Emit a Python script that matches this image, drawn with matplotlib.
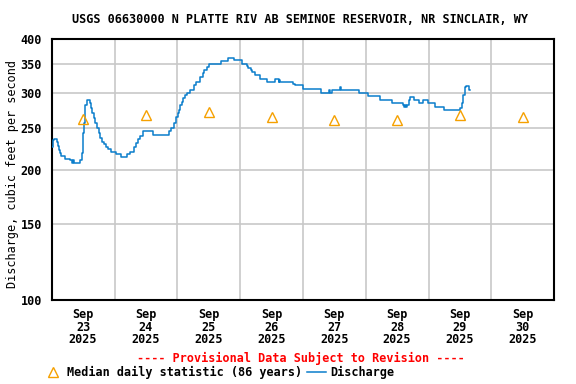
import numpy as np
import pandas as pd
import matplotlib
matplotlib.use("Agg")
import matplotlib.pyplot as plt
import matplotlib.dates as mdates
from matplotlib.lines import Line2D
from matplotlib.ticker import FixedLocator, NullFormatter

plt.rcParams['font.family'] = 'DejaVu Sans Mono'
plt.rcParams['font.weight'] = 'bold'

title = "USGS 06630000 N PLATTE RIV AB SEMINOE RESERVOIR, NR SINCLAIR, WY"
start = pd.Timestamp("2025-09-23 00:00")

# discharge readings: hours after Sep 23 00:00, cfs
q_hours = [0.0, 0.5, 0.9, 2.0, 2.4, 2.8, 3.2, 3.7, 5.2, 7.0, 7.7, 8.2, 8.4, 10.7,
           11.5, 11.8, 12.0, 12.3, 12.6, 12.8, 13.4, 14.6, 15.1, 15.5, 16.0, 16.6,
           17.3, 17.9, 18.5, 19.2, 19.9, 20.6, 21.4, 22.7, 24.4, 26.5, 28.7, 30.0,
           31.4, 32.2, 33.0, 33.6, 34.7, 38.7, 44.8, 45.7, 46.7, 47.6, 48.2, 48.6,
           48.9, 49.9, 50.3, 50.8, 51.8, 52.9, 54.2, 55.2, 56.5, 57.8, 58.2, 59.4,
           60.1, 64.8, 67.3, 69.8, 72.6, 74.5, 75.2, 76.0, 76.4, 77.7, 79.7, 82.3,
           85.5, 86.7, 87.0, 87.3, 92.4, 92.9, 95.9, 102.9, 106.0, 106.4, 107.3,
           110.2, 110.7, 117.5, 120.9, 125.5, 130.2, 134.2, 134.6, 135.0, 135.4,
           135.9, 136.5, 137.1, 138.4, 140.3, 142.0, 143.7, 146.4, 149.8, 156.2,
           156.8, 157.2, 157.8, 158.1, 158.5, 159.4, 160.0]
q_cfs = [226, 234, 236, 232, 227, 222, 219, 215, 212, 210, 207, 211, 207, 210,
         218, 230, 243, 256, 270, 282, 289, 285, 277, 270, 263, 256,
         249, 243, 237, 232, 229, 226, 223, 220, 217, 214, 217, 220,
         226, 230, 236, 239, 246, 240, 246, 249, 256, 265, 270, 275,
         282, 287, 292, 298, 300, 305, 314, 319, 328, 334, 340, 345,
         350, 357, 363, 358, 351, 347, 343, 339, 337, 331, 324, 318,
         323, 319, 322, 318, 315, 313, 307, 301, 305, 301, 306,
         310, 306, 300, 296, 290, 285, 282, 279, 282, 279,
         282, 290, 295, 290, 285, 289, 285, 279, 275, 277,
         285, 297, 305, 310, 312, 306, 306]

# median daily statistic (86 years), plotted at noon
med_days = ["2025-09-23", "2025-09-24", "2025-09-25", "2025-09-26",
            "2025-09-27", "2025-09-28", "2025-09-29", "2025-09-30"]
med_cfs = [262, 268, 272, 265, 261, 260, 267, 265]

yticks = [100, 150, 200, 250, 300, 350, 400]

t = start + pd.to_timedelta(q_hours, unit="h")
tm = pd.to_datetime(med_days) + pd.Timedelta(hours=12)

fig = plt.figure(figsize=(5.76, 3.84), dpi=100)
ax = fig.add_axes([0.0898, 0.2187, 0.8722, 0.679])

ax.plot(t, q_cfs, drawstyle="steps-post", color="#0a7dcb", lw=1.1, zorder=3)
ax.plot(tm, med_cfs, ls="none", marker="^", ms=7, mfc="none", mec="#f5a000",
        mew=1.0, zorder=4)

ax.set_yscale("log")
ax.set_ylim(100, 400)
ax.yaxis.set_major_locator(FixedLocator(yticks))
ax.yaxis.set_major_formatter(plt.FixedFormatter([str(v) for v in yticks]))
ax.yaxis.set_minor_formatter(NullFormatter())
ax.yaxis.set_minor_locator(FixedLocator([]))

ax.set_xlim(start, start + pd.Timedelta(days=8))
days = pd.date_range(start, periods=8, freq="D")
ax.xaxis.set_major_locator(FixedLocator(mdates.date2num(days + pd.Timedelta(hours=12))))
ax.xaxis.set_major_formatter(plt.FixedFormatter(
    [f"{d:%b}\n{d.day}\n{d.year}" for d in days]))
ax.xaxis.set_minor_locator(FixedLocator(mdates.date2num(days[1:])))

ax.grid(False)
ax.grid(True, which="minor", axis="x", color="#c8c8c8", lw=1.2)
ax.grid(True, which="major", axis="y", color="#c8c8c8", lw=1.2)
ax.tick_params(axis="both", which="both", length=0, labelsize=8.5)
ax.tick_params(axis="y", pad=7)
ax.tick_params(axis="x", pad=6)
for lab in ax.get_xticklabels():
    lab.set_linespacing(0.95)
for s in ax.spines.values():
    s.set_linewidth(1.5)

ax.set_ylabel("Discharge, cubic feet per second", fontsize=8.5, va="center")
ax.yaxis.set_label_coords(-0.079, 0.485)
fig.text(0.52, 0.948, title, ha="center", va="center", fontsize=8.5)
fig.text(0.523, 0.067, "---- Provisional Data Subject to Revision ----",
         ha="center", va="center", fontsize=8.5, color="red")

handles = [Line2D([], [], ls="none", marker="^", ms=7, mfc="none",
                  mec="#f5a000", mew=1.0),
           Line2D([], [], color="#0a7dcb", lw=1.1)]
fig.legend(handles, ["Median daily statistic (86 years)", "Discharge"],
           loc="center left", bbox_to_anchor=(0.075, 0.031), ncol=2,
           frameon=False, fontsize=8.5, handlelength=1.6, handletextpad=0.4,
           columnspacing=0.4, borderpad=0, borderaxespad=0)

fig.savefig("out.png", dpi=100)
